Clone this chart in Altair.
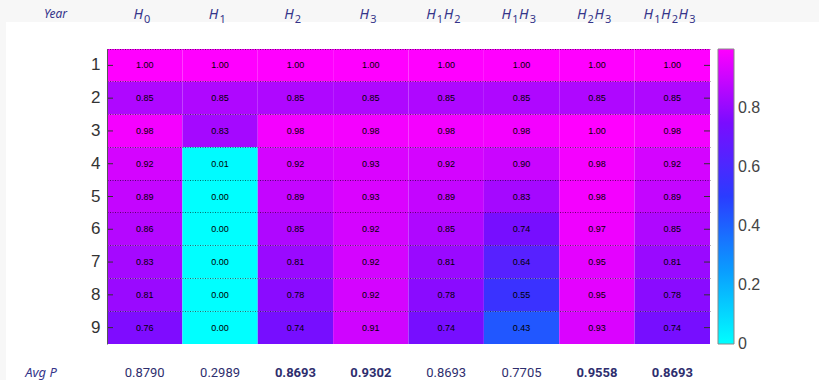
import altair as alt
import pandas as pd

# Column keys, the hypothesis indices in each header, and years
columns = ["H0", "H1", "H2", "H3", "H1H2", "H1H3", "H2H3", "H1H2H3"]
header_indices = [["0"], ["1"], ["2"], ["3"], ["1", "2"], ["1", "3"], ["2", "3"], ["1", "2", "3"]]
years = ["1", "2", "3", "4", "5", "6", "7", "8", "9"]

# Per-year P values for each column
p_h0 = [1.00, 0.85, 0.98, 0.92, 0.89, 0.86, 0.83, 0.81, 0.76]
p_h1 = [1.00, 0.85, 0.83, 0.01, 0.00, 0.00, 0.00, 0.00, 0.00]
p_h2 = [1.00, 0.85, 0.98, 0.92, 0.89, 0.85, 0.81, 0.78, 0.74]
p_h3 = [1.00, 0.85, 0.98, 0.93, 0.93, 0.92, 0.92, 0.92, 0.91]
p_h1h2 = [1.00, 0.85, 0.98, 0.92, 0.89, 0.85, 0.81, 0.78, 0.74]
p_h1h3 = [1.00, 0.85, 0.98, 0.90, 0.83, 0.74, 0.64, 0.55, 0.43]
p_h2h3 = [1.00, 0.85, 1.00, 0.98, 0.98, 0.97, 0.95, 0.95, 0.93]
p_h1h2h3 = [1.00, 0.85, 0.98, 0.92, 0.89, 0.85, 0.81, 0.78, 0.74]

# Average P per column, and which ones are highlighted in bold
avg_p = [0.8790, 0.2989, 0.8693, 0.9302, 0.8693, 0.7705, 0.9558, 0.8693]
avg_bold = [False, False, True, True, False, False, True, True]

series = [p_h0, p_h1, p_h2, p_h3, p_h1h2, p_h1h3, p_h2h3, p_h1h2h3]
cells = pd.DataFrame(
    [{"col": c, "year": y, "p": v}
     for c, vals in zip(columns, series)
     for y, v in zip(years, vals)]
)
avg = pd.DataFrame({"col": columns, "avg": avg_p, "bold": avg_bold})
avg["label"] = avg["avg"].map(lambda v: f"{v:.4f}")

W, H = 603, 295
NAVY = "#35358a"
X_SORT = columns
band = alt.Scale(paddingInner=0, paddingOuter=0)

# header pieces: an italic H followed by a subscript index, laid out side by
# side around the middle of each column (offsets are measured from band start)
STEP = 17.5
HALF = W / len(columns) / 2
parts = []
for c, idx in zip(columns, header_indices):
    k = len(idx)
    for j, d in enumerate(idx):
        centre = HALF - 3 + (j - (k - 1) / 2) * STEP
        parts.append({"col": c, "sym": "H", "sub": d,
                      "off_h": centre - 3.5, "off_s": centre + 5.5})
parts = pd.DataFrame(parts)

x_enc = alt.X(
    "col:N", sort=X_SORT, scale=band,
    axis=alt.Axis(
        orient="top", title=None, bandPosition=0, labels=False,
        grid=True, gridDash=[1, 1.5], gridColor="#000", gridOpacity=0.7,
        gridWidth=0.8,
        ticks=False, domain=True, domainColor="#555", domainWidth=1, zindex=1,
    ),
)
x_plain = alt.X("col:N", sort=X_SORT, scale=band, axis=None)

y_enc = alt.Y(
    "year:O", sort=years, scale=alt.Scale(paddingInner=0, paddingOuter=0),
    axis=alt.Axis(
        orient="left", title="Year", bandPosition=0,
        grid=True, gridDash=[1, 1.5], gridColor="#000", gridOpacity=0.7,
        gridWidth=0.8,
        ticks=False, domain=True, domainColor="#555", domainWidth=1,
        labelFont="Liberation Sans", labelFontSize=17, labelColor="#333",
        labelPadding=7, labelBaseline="middle", labelOverlap=False,
        titleAngle=0, titleX=-52, titleY=-36, titleAlign="center",
        titleBaseline="middle", titleFont="Noto Sans", titleFontStyle="italic",
        titleFontWeight="normal", titleFontSize=12, titleColor=NAVY, zindex=1,
    ),
)

color_scale = alt.Scale(
    domain=[0, 0.25, 0.5, 0.75, 1.0],
    range=["#00ffff", "#0a9cff", "#2a3cff", "#7a0cff", "#ff00ff"],
    interpolate="rgb",
)

# white panel behind the chart body
panel = alt.Chart(pd.DataFrame({"k": [0]})).mark_rect(color="white").encode(
    x=alt.value(-101), x2=alt.value(712), y=alt.value(-27), y2=alt.value(331)
)

heat = alt.Chart(cells).mark_rect().encode(
    x=x_enc,
    y=y_enc,
    color=alt.Color(
        "p:Q", scale=color_scale,
        legend=alt.Legend(
            title=None, orient="none", legendX=611, legendY=0, direction="vertical",
            gradientLength=H, gradientThickness=16, gradientStrokeColor="#888",
            gradientStrokeWidth=1, values=[0.0001, 0.2, 0.4, 0.6, 0.8],
            labelExpr="datum.value < 0.01 ? '0' : format(datum.value, '.1f')",
            labelFont="Liberation Sans", labelFontSize=16, labelColor="#444",
            labelOffset=4, padding=0,
        ),
    ),
)

cell_text = alt.Chart(cells).mark_text(
    font="Liberation Sans", fontSize=9, color="black"
).encode(
    x=x_plain,
    y=alt.Y("year:O", sort=years),
    text=alt.Text("p:Q", format=".2f"),
)

tick_left = alt.Chart(pd.DataFrame({"year": years})).mark_rule(
    color="#333", strokeWidth=1
).encode(y=alt.Y("year:O", sort=years), x=alt.value(0), x2=alt.value(6))

tick_right = alt.Chart(pd.DataFrame({"year": years})).mark_rule(
    color="#333", strokeWidth=1
).encode(y=alt.Y("year:O", sort=years), x=alt.value(W - 6), x2=alt.value(W))

off_scale = alt.Scale(domain=[-100, 100], range=[-100, 100])
head_h = alt.Chart(parts).mark_text(
    font="Noto Sans", fontStyle="italic", fontSize=14, color=NAVY
).encode(
    x=x_plain,
    xOffset=alt.XOffset("off_h:Q", scale=off_scale),
    y=alt.value(-34), text="sym:N",
)
head_sub = alt.Chart(parts).mark_text(
    font="Noto Sans", fontSize=11, color=NAVY
).encode(
    x=x_plain,
    xOffset=alt.XOffset("off_s:Q", scale=off_scale),
    y=alt.value(-29), text="sub:N",
)
headers_layer = alt.layer(head_h, head_sub)

avg_base = alt.Chart(avg).encode(
    x=x_plain, y=alt.value(H + 29), text="label:N"
)
avg_plain = avg_base.transform_filter("!datum.bold").mark_text(
    font="Roboto", fontSize=13, color="#2e2e6e"
)
avg_strong = avg_base.transform_filter("datum.bold").mark_text(
    font="Roboto", fontSize=13, fontWeight="bold", color="#2e2e6e"
)

avg_title = alt.Chart(pd.DataFrame({"t": ["Avg P"]})).mark_text(
    font="Noto Sans", fontStyle="italic", fontSize=13, color=NAVY
).encode(text="t:N", x=alt.value(-66), y=alt.value(H + 29))

main = alt.layer(panel, heat, cell_text, tick_left, tick_right, avg_plain, avg_strong, avg_title)

chart = alt.layer(main, headers_layer).resolve_scale(
    x="independent", xOffset="independent"
).properties(
    width=W, height=H,
    autosize=alt.AutoSizeParams(type="none"),
    padding={"left": 107, "top": 49, "right": 109, "bottom": 36},
    background="#f7f7f7",
).configure_view(stroke="#555", strokeWidth=1)

chart.save("out.html", embed_options={"renderer": "svg", "actions": False})
